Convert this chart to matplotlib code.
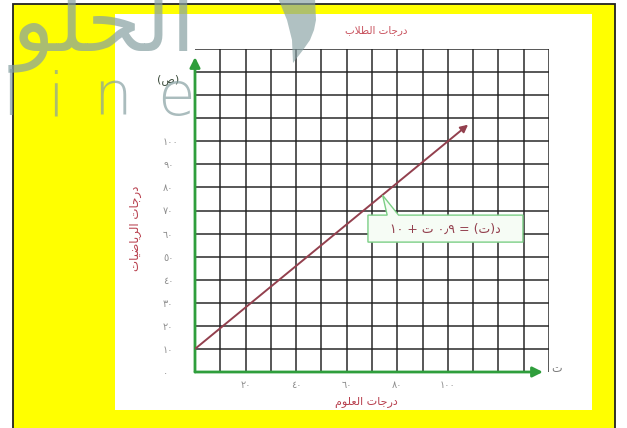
import numpy as np
import matplotlib
matplotlib.use("Agg")
import matplotlib.pyplot as plt
from matplotlib.patches import Rectangle, Polygon

# ---------------- data ----------------
x_ticks = [20, 40, 60, 80, 100]
x_tick_labels = ['٢٠', '٤٠', '٦٠', '٨٠', '١٠٠']
y_ticks = [0, 10, 20, 30, 40, 50, 60, 70, 80, 90, 100]
y_tick_labels = ['٠', '١٠', '٢٠', '٣٠', '٤٠', '٥٠', '٦٠', '٧٠', '٨٠', '٩٠', '١٠٠']
grid_values = [10, 20, 30, 40, 50, 60, 70, 80, 90, 100, 110, 120, 130, 140]
t_line = [0, 100, 108]          # ت
d_line = [10, 100, 107.2]       # د(ت) = 0.9 ت + 10
title = 'درجات الطلاب'
x_label = 'درجات العلوم'
y_label = 'درجات الرياضيات'
x_var = 'ت'
y_var = '(ص)'
equation = 'د(ت) = ٠٫٩ ت + ١٠'

# ------------- minimal Arabic shaping (matplotlib has no bidi) -------------
FORMS = {
    'ا': (0xFE8D, 0xFE8E, None, None), 'ب': (0xFE8F, 0xFE90, 0xFE91, 0xFE92),
    'ت': (0xFE95, 0xFE96, 0xFE97, 0xFE98), 'ج': (0xFE9D, 0xFE9E, 0xFE9F, 0xFEA0),
    'ح': (0xFEA1, 0xFEA2, 0xFEA3, 0xFEA4), 'د': (0xFEA9, 0xFEAA, None, None),
    'ر': (0xFEAD, 0xFEAE, None, None), 'ص': (0xFEB9, 0xFEBA, 0xFEBB, 0xFEBC),
    'ض': (0xFEBD, 0xFEBE, 0xFEBF, 0xFEC0), 'ط': (0xFEC1, 0xFEC2, 0xFEC3, 0xFEC4),
    'ع': (0xFEC9, 0xFECA, 0xFECB, 0xFECC), 'ل': (0xFEDD, 0xFEDE, 0xFEDF, 0xFEE0),
    'م': (0xFEE1, 0xFEE2, 0xFEE3, 0xFEE4), 'و': (0xFEED, 0xFEEE, None, None),
    'ي': (0xFEF1, 0xFEF2, 0xFEF3, 0xFEF4),
}
MIRROR = {'(': ')', ')': '('}
DIGITS = set('٠١٢٣٤٥٦٧٨٩٫0123456789.')


def shape(s):
    ch = list(s)
    n = len(ch)
    res = []
    i = 0
    while i < n:
        c = ch[i]
        prev = ch[i - 1] if i > 0 else None
        jp = prev in FORMS and FORMS[prev][2] is not None
        if c == 'ل' and i + 1 < n and ch[i + 1] == 'ا':
            res.append(chr(0xFEFC if jp else 0xFEFB))
            i += 2
            continue
        if c in FORMS:
            f = FORMS[c]
            nxt = ch[i + 1] if i + 1 < n else None
            jn = f[2] is not None and nxt in FORMS
            g = f[3] if (jp and jn) else f[1] if jp else f[2] if jn else f[0]
            res.append(chr(g))
        else:
            res.append(c)
        i += 1
    return res


def ar(s):
    runs = []
    for c in shape(s):
        d = c in DIGITS
        if runs and runs[-1][0] == d:
            runs[-1][1].append(c)
        else:
            runs.append((d, [c]))
    out = ''
    for d, chs in reversed(runs):
        out += ''.join(chs) if d else ''.join(MIRROR.get(c, c) for c in reversed(chs))
    return out


W, H = 627, 428
fx = lambda x: x / W
fy = lambda y: 1 - y / H

fig = plt.figure(figsize=(W / 100, H / 100), dpi=100)
fig.patch.set_facecolor('white')

# frame / backgrounds
fig.patches.append(Rectangle((fx(13), -0.02), fx(615) - fx(13), fy(4) + 0.02,
                             transform=fig.transFigure, fc='#ffff00', ec='#222222', lw=1.3, zorder=-3))
fig.patches.append(Rectangle((fx(115), fy(410)), fx(592) - fx(115), fy(14) - fy(410),
                             transform=fig.transFigure, fc='white', ec='none', zorder=-2))

# ---------------- main grid axes ----------------
ax = fig.add_axes([fx(195), fy(372), fx(549) - fx(195), fy(49) - fy(372)])
ax.set_facecolor('none')
ax.set_xlim(0, 140)
ax.set_ylim(0, 140)
for sp in ax.spines.values():
    sp.set_visible(False)

gcol = '#222222'
ax.vlines(grid_values, 0, 140, colors=gcol, lw=1.25, alpha=0.85, zorder=1)
ax.hlines(grid_values, 0, 140, colors=gcol, lw=1.25, alpha=0.85, zorder=1)

green = '#2f9e3c'
ax.annotate('', xy=(137.6, 0), xytext=(0, 0), annotation_clip=False,
            arrowprops=dict(arrowstyle='-|>', color=green, lw=2.0, mutation_scale=15,
                            shrinkA=0, shrinkB=0), zorder=3)
ax.annotate('', xy=(0, 136.5), xytext=(0, 0), annotation_clip=False,
            arrowprops=dict(arrowstyle='-|>', color=green, lw=2.0, mutation_scale=15,
                            shrinkA=0, shrinkB=0), zorder=3)

maroon = '#93404e'
ax.plot(t_line[:2], d_line[:2], color=maroon, lw=1.4, zorder=4, solid_capstyle='butt')
ax.annotate('', xy=(t_line[2], d_line[2]), xytext=(t_line[1], d_line[1]),
            arrowprops=dict(arrowstyle='-|>', color=maroon, lw=1.4, mutation_scale=11,
                            shrinkA=0, shrinkB=0), zorder=4)

# callout
call = Polygon([(68.4, 56.3), (129.7, 56.3), (129.7, 68.0), (80.5, 68.0), (74.2, 76.6),
                (76.0, 68.0), (68.4, 68.0)], closed=True, fc='#f6fcf5', ec='#7ccf86', lw=1.0, zorder=5)
ax.add_patch(call)
ax.text(99, 62.0, ar(equation), ha='center', va='center', fontsize=9, color=maroon,
        family='DejaVu Sans', zorder=6)

# ticks
ax.set_xticks(x_ticks, x_tick_labels)
ax.set_yticks(y_ticks, y_tick_labels)
ax.tick_params(axis='x', length=0, pad=6, labelsize=7, labelcolor='#8f8f8f')
ax.tick_params(axis='y', length=0, pad=23, labelsize=7, labelcolor='#8f8f8f')
for lb in ax.get_yticklabels():
    lb.set_ha('left')

# texts
fig.text(fx(376), fy(30), ar(title), ha='center', va='center', fontsize=7.5, color='#c8505c')
fig.text(fx(366), fy(402), ar(x_label), ha='center', va='center', fontsize=8, color='#b8404e')
fig.text(fx(136), fy(228), ar(y_label), ha='center', va='center', fontsize=8.5, color='#b8404e',
         rotation=90)
fig.text(fx(557), fy(369), ar(x_var), ha='center', va='center', fontsize=8, color='#7a7a7a')
fig.text(fx(168), fy(80), ar(y_var), ha='center', va='center', fontsize=8, color='#3d4d3d')

# watermark
wm = '#86a0a2'
fig.text(fx(104), fy(27), ar('الحلو'), ha='center', va='center', fontsize=64, color=wm, alpha=0.7)
for ch, xpos in zip(['l', 'i', 'n', 'e'], [11, 56, 112, 176]):
    fig.text(fx(xpos), fy(115), ch, ha='center', va='baseline', fontsize=44, color=wm,
             alpha=0.7, fontweight='light', family='DejaVu Sans')
cres = np.array([(315, -2), (316, 20), (314, 30), (310, 40), (303, 50), (293, 63),
                 (292, 40), (287, 20), (278, -2)], dtype=float)
fig.patches.append(Polygon(np.c_[cres[:, 0] / W, 1 - cres[:, 1] / H], closed=True,
                           transform=fig.transFigure, fc=wm, alpha=0.65, ec='none', zorder=10))

fig.savefig('out.png', dpi=100)
